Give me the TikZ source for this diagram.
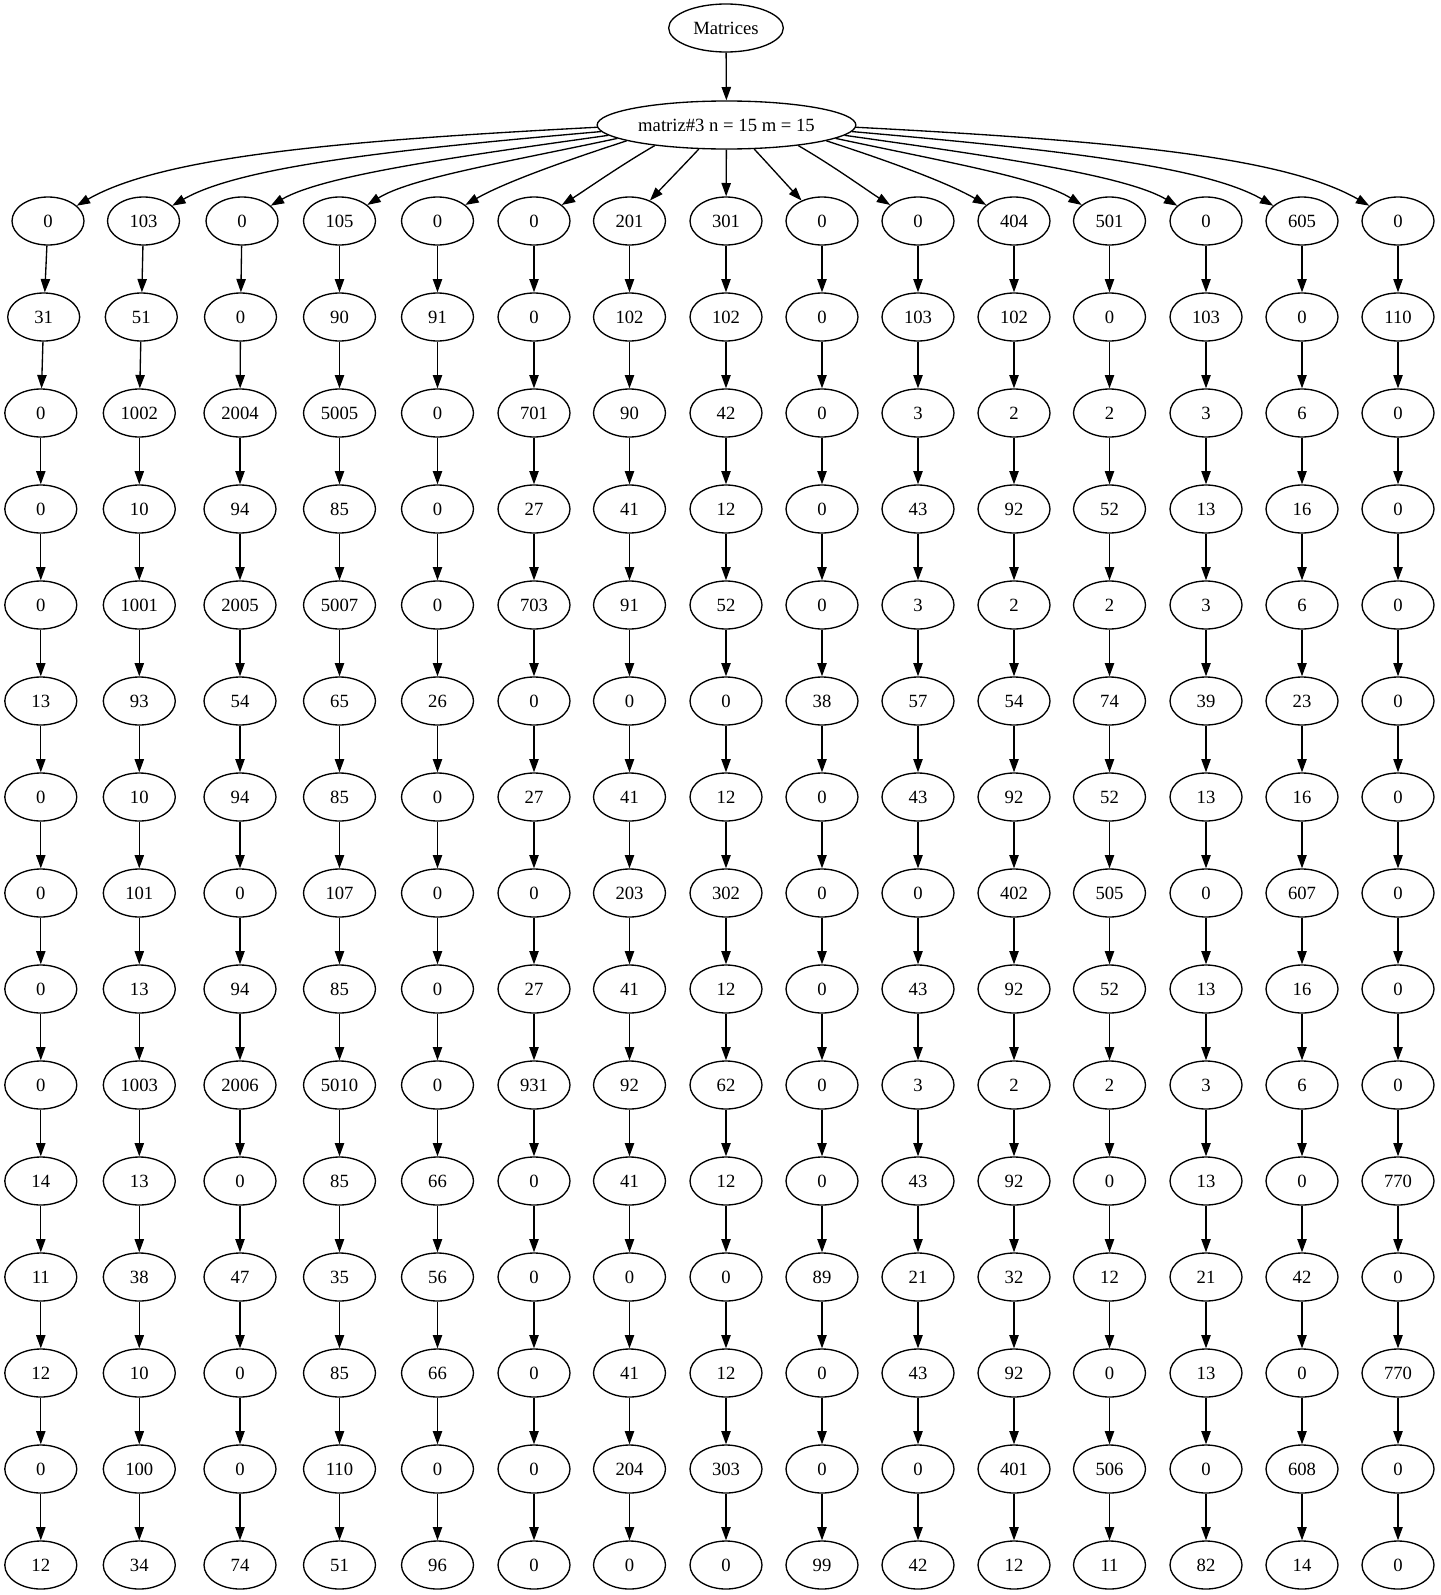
\documentclass[tikz,border=0pt]{standalone}
\usepackage{fontspec}
\setmainfont{Liberation Serif}
\usetikzlibrary{arrows.meta,shapes.geometric}

\tikzset{
  entry/.style={draw, ellipse, line width=1pt, minimum width=54pt, minimum height=36pt,
    inner sep=0pt, font=\fontsize{14}{16}\selectfont},
  edge/.style={line width=1pt, -{Triangle[length=10pt,width=7pt]}}
}

\begin{document}
\begin{tikzpicture}[x=0.75pt,y=0.75pt]
        \useasboundingbox (0,0) rectangle (1440,-1595);

        % root and matrix header
        \node[entry, minimum width=86pt] (root) at (726,-28) {Matrices};
        \node[entry, minimum width=194pt] (mat) at (726.5,-125) {matriz\#3 n = 15 m = 15};
        \draw[edge] (root) -- (mat);

        % one column per matrix row: x of row 1, row 2, rows 3-15, values
        \foreach \c/\xa/\xb/\xc/\vals in {
            1/48/43.7/40.8/{0,31,0,0,0,13,0,0,0,0,14,11,12,0,12},
            2/143.5/141.3/139.3/{103,51,1002,10,1001,93,10,101,13,1003,13,38,10,100,34},
            3/242/240.5/240/{0,0,2004,94,2005,54,94,0,94,2006,0,47,0,0,74},
            4/339.5/339.5/339.5/{105,90,5005,85,5007,65,85,107,85,5010,85,35,85,110,51},
            5/437.5/437.5/437.5/{0,91,0,0,0,26,0,0,0,0,66,56,66,0,96},
            6/534/534/534/{0,0,701,27,703,0,27,0,27,931,0,0,0,0,0},
            7/629.5/629.5/629.5/{201,102,90,41,91,0,41,203,41,92,41,0,41,204,0},
            8/726/726/726/{301,102,42,12,52,0,12,302,12,62,12,0,12,303,0},
            9/822/822/822/{0,0,0,0,0,38,0,0,0,0,0,89,0,0,99},
            10/918/918/918/{0,103,3,43,3,57,43,0,43,3,43,21,43,0,42},
            11/1014/1014/1014/{404,102,2,92,2,54,92,402,92,2,92,32,92,401,12},
            12/1109.5/1109.5/1109.5/{501,0,2,52,2,74,52,505,52,2,0,12,0,506,11},
            13/1206/1206/1206/{0,103,3,13,3,39,13,0,13,3,13,21,13,0,82},
            14/1302/1302/1302/{605,0,6,16,6,23,16,607,16,6,0,42,0,608,14},
            15/1398/1398/1398/{0,110,0,0,0,0,0,0,0,0,770,0,770,0,0}} {
          \foreach \v [count=\r] in \vals {
            \ifnum\r=1 \def\xpos{\xa}\else\ifnum\r=2 \def\xpos{\xb}\else\def\xpos{\xc}\fi\fi
            \node[entry] (v\c-\r) at (\xpos,{-221-96*(\r-1)}) {\v};
            \ifnum\r>1
              \pgfmathtruncatemacro\p{\r-1}
              \draw[edge] (v\c-\p) -- (v\c-\r);
            \fi
          }
        }

        % fan-out from the header, left half mirrored to the right
        \foreach \k/\sa/\oa/\ol/\ia/\il/\ea in {1/181/183/250/30/100/28, 2/183/185/200/30/80/28,
            3/185/188/160/30/60/28, 4/187/192/120/32/50/30, 5/189/198/80/30/40/30,
            6/196/210/40/32/25/30, 7/221/227/20/47/20/45} {
          \pgfmathtruncatemacro\kr{16-\k}
          \pgfmathtruncatemacro\sr{540-\sa}
          \pgfmathtruncatemacro\orr{180-\oa}
          \pgfmathtruncatemacro\ir{180-\ia}
          \pgfmathtruncatemacro\er{180-\ea}
          \draw[edge] (mat.\sa) .. controls +(\oa:\ol) and +(\ia:\il) .. (v\k-1.\ea);
          \draw[edge] (mat.\sr) .. controls +(\orr:\ol) and +(\ir:\il) .. (v\kr-1.\er);
        }
        \draw[edge] (mat) -- (v8-1);
    \end{tikzpicture}
\end{document}
